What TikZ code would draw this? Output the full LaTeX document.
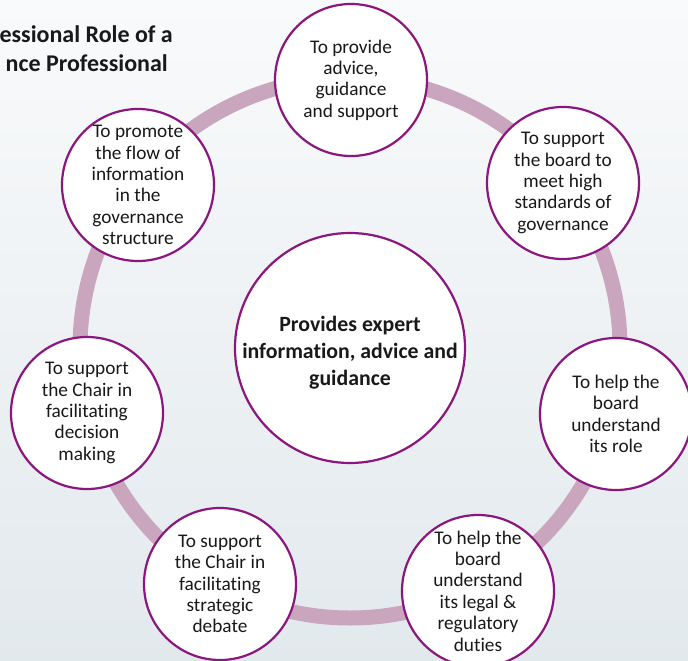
\documentclass[tikz,border=0pt]{standalone}
\usepackage{fontspec}
\setmainfont{Carlito}[Ligatures=NoCommon]
\definecolor{ringc}{RGB}{201,166,190}
\definecolor{edgec}{RGB}{139,22,126}
\definecolor{bgtop}{RGB}{249,250,251}
\definecolor{bgbot}{RGB}{226,233,237}
\tikzset{
  rolebox/.style={circle, draw=edgec, line width=2.2pt, fill=white, minimum size=152pt, inner sep=0pt, align=center, font=\fontsize{19.3}{21.4}\selectfont, text=black!90},
  corebox/.style={circle, draw=edgec, line width=2.2pt, fill=white, minimum size=230pt, inner sep=0pt},
  coretext/.style={align=center, font=\bfseries\fontsize{21.8}{27}\selectfont, text=black!90, yshift=-5pt},
  titletext/.style={font=\bfseries\fontsize{24}{29}\selectfont, text=black!90, inner sep=0pt}
}
\begin{document}
\begin{tikzpicture}[x=1pt,y=-1pt]
\useasboundingbox (0,0) rectangle (688,661);
\clip (0,0) rectangle (688,661);
\shade[top color=bgtop, bottom color=bgbot] (0,0) rectangle (688,661);
\node[titletext, anchor=base east] (t1) at (173,43) {essional Role of a};
\node[titletext, anchor=base east] (t2) at (168,72) {nce Professional};
\coordinate (ctr) at (350,348);
\draw[ringc, line width=15pt] (ctr) circle (270);
\node[corebox, label={[coretext]center:{Provides expert\\information, advice and\\guidance}}] (core) at (350,348) {};
\node[rolebox] (r1) at (351,80) {To provide\\advice,\\guidance\\and support};
\node[rolebox] (r2) at (563,183) {To support\\the board to\\meet high\\standards of\\governance};
\node[rolebox] (r3) at (616,414) {To help the\\board\\understand\\its role};
\node[rolebox] (r4) at (478,591) {To help the\\board\\understand\\its legal \&\\regulatory\\duties};
\node[rolebox] (r5) at (220,584) {To support\\the Chair in\\facilitating\\strategic\\debate};
\node[rolebox] (r6) at (87,413) {To support\\the Chair in\\facilitating\\decision\\making};
\node[rolebox] (r7) at (138,185) {To promote\\the flow of\\information\\in the\\governance\\structure};
\end{tikzpicture}
\end{document}
